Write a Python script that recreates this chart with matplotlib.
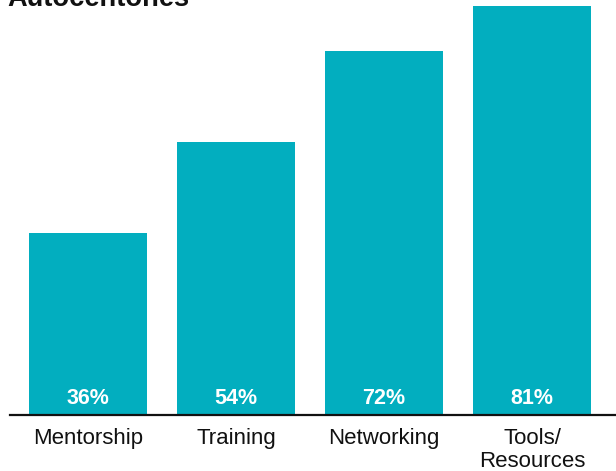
import matplotlib
matplotlib.use("Agg")
import matplotlib.pyplot as plt

categories = ["Mentorship", "Training", "Networking", "Tools/\nResources"]
values = [36, 54, 72, 81]
value_labels = ["36%", "54%", "72%", "81%"]
title = "Autocentones"

BAR_COLOR = "#02AEBF"
W, H = 616, 471

plt.rcParams["font.family"] = ["Liberation Sans", "DejaVu Sans"]

fig = plt.figure(figsize=(W / 100, H / 100), dpi=100)
ax = fig.add_axes([10 / W, (H - 415) / H, (W - 10) / W, 415 / H])

x = list(range(len(categories)))
ax.bar(x, values, width=0.80, color=BAR_COLOR, zorder=2)

ax.set_xlim(-0.527, 3.568)
ax.set_ylim(0, 82.2)

for xi, lab in zip(x, value_labels):
    ax.annotate(lab, xy=(xi, 0), xytext=(0, 12.2), textcoords="offset points",
                ha="center", va="center", color="white",
                fontsize=15.5, fontweight="bold", zorder=3)

ax.set_xticks(x)
ax.set_xticklabels(categories, fontsize=16, color="#111111",
                   linespacing=1.1, va="top")
ax.tick_params(axis="x", length=0, pad=9.6)
ax.set_yticks([])

for side in ("top", "right", "left"):
    ax.spines[side].set_visible(False)
ax.spines["bottom"].set_linewidth(1.6)
ax.spines["bottom"].set_color("#111111")
ax.spines["bottom"].set_zorder(4)

fig.text(7 / W, 1 - 5.5 / H, title, fontsize=19.6, fontweight="bold",
         color="#111111", ha="left", va="baseline")

fig.savefig("out.png", dpi=100)
